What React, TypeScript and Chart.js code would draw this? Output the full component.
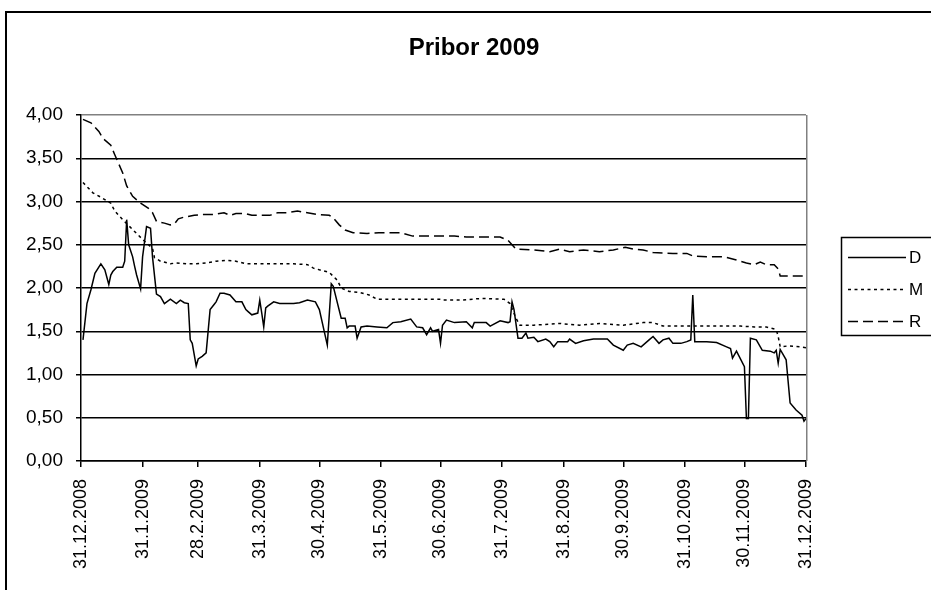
import React, { useEffect, useRef } from "react";
import { Chart, registerables } from "chart.js";

Chart.register(...registerables);

const TITLE = "Pribor 2009";
const FONT = '"Liberation Sans", Arial, sans-serif';

// x tick positions: days since 31.12.2008
const xTickDays = [0, 31, 59, 90, 120, 151, 181, 212, 243, 273, 304, 334, 365];
const xTickLabels = [
  "31.12.2008", "31.1.2009", "28.2.2009", "31.3.2009", "30.4.2009", "31.5.2009",
  "30.6.2009", "31.7.2009", "31.8.2009", "30.9.2009", "31.10.2009", "30.11.2009", "31.12.2009",
];
const yTickLabels = ["0,00", "0,50", "1,00", "1,50", "2,00", "2,50", "3,00", "3,50", "4,00"];

// Series D
const dDays = [1, 3, 5, 7, 10, 12, 14, 15, 16, 18, 21, 22, 23, 24, 26, 27, 28, 30, 31, 33, 35, 36, 38, 40, 42, 45, 48, 50, 52, 54, 55, 56, 58, 59, 61, 63, 65, 67, 68, 70, 72, 75, 78, 81, 83, 84, 86, 89, 90, 91, 92, 93, 94, 97, 100, 107, 110, 114, 118, 120, 124, 126, 127, 131, 133, 134, 135, 138, 139, 141, 144, 149, 154, 157, 161, 166, 169, 172, 174, 176, 177, 180, 181, 182, 184, 188, 194, 197, 198, 204, 206, 211, 215, 216, 217, 218, 220, 222, 224, 225, 228, 230, 234, 236, 238, 240, 245, 246, 249, 253, 258, 265, 268, 273, 275, 278, 282, 286, 288, 291, 293, 296, 298, 302, 305, 307, 308, 309, 315, 320, 325, 327, 328, 330, 334, 335, 336, 337, 340, 343, 347, 349, 350, 351, 352, 355, 357, 360, 363, 364, 365];
const dValues = [1.40, 1.82, 1.98, 2.17, 2.28, 2.21, 2.04, 2.15, 2.19, 2.24, 2.24, 2.31, 2.79, 2.50, 2.36, 2.25, 2.15, 1.99, 2.36, 2.71, 2.69, 2.36, 1.93, 1.90, 1.82, 1.87, 1.82, 1.86, 1.83, 1.82, 1.40, 1.36, 1.10, 1.18, 1.21, 1.25, 1.75, 1.81, 1.84, 1.94, 1.94, 1.92, 1.84, 1.84, 1.75, 1.73, 1.69, 1.71, 1.86, 1.71, 1.55, 1.77, 1.79, 1.84, 1.82, 1.82, 1.83, 1.86, 1.84, 1.75, 1.34, 2.05, 2.02, 1.65, 1.65, 1.54, 1.56, 1.56, 1.42, 1.55, 1.56, 1.55, 1.54, 1.60, 1.61, 1.64, 1.55, 1.54, 1.46, 1.54, 1.50, 1.52, 1.36, 1.57, 1.63, 1.60, 1.61, 1.54, 1.60, 1.60, 1.56, 1.62, 1.60, 1.61, 1.84, 1.75, 1.42, 1.42, 1.48, 1.42, 1.43, 1.38, 1.41, 1.38, 1.32, 1.38, 1.38, 1.41, 1.36, 1.39, 1.41, 1.41, 1.34, 1.28, 1.34, 1.36, 1.32, 1.40, 1.44, 1.36, 1.40, 1.42, 1.36, 1.36, 1.38, 1.40, 1.92, 1.38, 1.38, 1.37, 1.32, 1.30, 1.19, 1.27, 1.09, 0.49, 0.49, 1.42, 1.40, 1.28, 1.27, 1.25, 1.28, 1.13, 1.29, 1.17, 0.67, 0.59, 0.53, 0.46, 0.49];

// Series M
const mDays = [1, 6, 10, 15, 17, 21, 28, 32, 36, 37, 40, 45, 48, 53, 58, 63, 68, 73, 78, 83, 90, 107, 114, 117, 120, 125, 129, 131, 135, 140, 145, 149, 161, 181, 182, 191, 202, 213, 216, 219, 221, 228, 241, 251, 261, 273, 283, 288, 293, 298, 315, 332, 339, 345, 350, 351, 352, 356, 362, 365];
const mValues = [3.22, 3.10, 3.05, 2.98, 2.89, 2.79, 2.63, 2.54, 2.46, 2.35, 2.31, 2.28, 2.29, 2.28, 2.28, 2.29, 2.31, 2.32, 2.31, 2.28, 2.28, 2.28, 2.27, 2.23, 2.21, 2.18, 2.09, 2.00, 1.96, 1.95, 1.92, 1.87, 1.87, 1.87, 1.86, 1.86, 1.88, 1.87, 1.82, 1.65, 1.57, 1.57, 1.59, 1.57, 1.59, 1.57, 1.60, 1.60, 1.56, 1.56, 1.56, 1.56, 1.55, 1.55, 1.52, 1.44, 1.32, 1.33, 1.32, 1.31];

// Series R
const rDays = [1, 5, 9, 11, 15, 17, 21, 23, 26, 30, 34, 36, 38, 42, 45, 47, 49, 52, 57, 62, 67, 72, 75, 78, 83, 86, 90, 95, 99, 104, 109, 114, 119, 125, 127, 130, 133, 137, 144, 150, 159, 161, 167, 177, 188, 194, 211, 215, 219, 228, 236, 241, 246, 253, 261, 268, 274, 278, 283, 288, 298, 305, 308, 315, 324, 329, 335, 339, 342, 345, 349, 351, 352, 365];
const rValues = [3.95, 3.91, 3.81, 3.73, 3.65, 3.54, 3.33, 3.18, 3.06, 2.98, 2.92, 2.87, 2.77, 2.75, 2.73, 2.74, 2.80, 2.82, 2.84, 2.85, 2.85, 2.87, 2.84, 2.86, 2.86, 2.84, 2.84, 2.84, 2.87, 2.87, 2.89, 2.87, 2.85, 2.84, 2.81, 2.73, 2.67, 2.64, 2.63, 2.64, 2.64, 2.64, 2.60, 2.60, 2.60, 2.59, 2.59, 2.55, 2.45, 2.44, 2.42, 2.45, 2.42, 2.44, 2.42, 2.44, 2.47, 2.45, 2.44, 2.41, 2.40, 2.40, 2.37, 2.36, 2.36, 2.33, 2.29, 2.27, 2.30, 2.27, 2.27, 2.22, 2.14, 2.14];

const toPoints = (xs: number[], ys: number[]) => xs.map((x, i) => ({ x, y: ys[i] }));

const decor = {
  id: "decor",
  beforeDatasetsDraw(chart: any) {
    const { ctx, chartArea: a } = chart;
    ctx.save();
    ctx.strokeStyle = "#808080";
    ctx.lineWidth = 1.5;
    ctx.beginPath();
    const rx = Math.round(a.right) + 0.75;
    ctx.moveTo(rx, a.top);
    ctx.lineTo(rx, a.bottom);
    ctx.stroke();
    ctx.restore();
  },
  afterDraw(chart: any) {
    const { ctx } = chart;
    ctx.save();
    // outer frame
    ctx.strokeStyle = "#000";
    ctx.lineWidth = 2;
    ctx.strokeRect(6, 12, 936, 584);
    // title
    ctx.fillStyle = "#000";
    ctx.font = `bold 24px ${FONT}`;
    ctx.textAlign = "center";
    ctx.textBaseline = "middle";
    ctx.fillText(TITLE, 474, 48);
    // legend
    ctx.lineWidth = 1.5;
    ctx.strokeRect(841.5, 237.5, 100, 98);
    ctx.font = `17px ${FONT}`;
    ctx.textAlign = "left";
    chart.data.datasets.forEach((ds: any, i: number) => {
      const y = 257 + i * 32;
      ctx.save();
      ctx.strokeStyle = "#000";
      ctx.lineWidth = 1.5;
      ctx.setLineDash(ds.borderDash || []);
      ctx.beginPath();
      ctx.moveTo(848, y + 0.5);
      ctx.lineTo(906, y + 0.5);
      ctx.stroke();
      ctx.restore();
      ctx.fillText(ds.label, 909, y + 1);
    });
    ctx.restore();
  },
};

export default function App() {
  const ref = useRef<HTMLCanvasElement | null>(null);
  useEffect(() => {
    if (!ref.current) return;
    const chart = new Chart(ref.current, {
      type: "line",
      data: {
        datasets: [
          { label: "D", data: toPoints(dDays, dValues), borderColor: "#000", borderWidth: 1.5, pointRadius: 0, tension: 0, fill: false },
          { label: "M", data: toPoints(mDays, mValues), borderColor: "#000", borderWidth: 1.5, borderDash: [3, 3.5], pointRadius: 0, tension: 0, fill: false },
          { label: "R", data: toPoints(rDays, rValues), borderColor: "#000", borderWidth: 1.5, borderDash: [10, 5], pointRadius: 0, tension: 0, fill: false },
        ],
      },
      options: {
        responsive: false,
        animation: false,
        devicePixelRatio: 1,
        layout: { padding: { top: 115, right: 142, left: 0, bottom: 0 } },
        plugins: { legend: { display: false }, title: { display: false }, tooltip: { enabled: false } },
        scales: {
          x: {
            type: "linear",
            min: 0,
            max: 365,
            afterBuildTicks: (scale: any) => {
              scale.ticks = xTickDays.map((v) => ({ value: v }));
            },
            afterFit: (scale: any) => {
              scale.height = 139;
            },
            ticks: {
              autoSkip: false,
              maxRotation: 90,
              minRotation: 90,
              padding: 12,
              color: "#000",
              font: { family: FONT, size: 18 },
              callback: (v: any) => {
                const i = xTickDays.indexOf(Number(v));
                return i >= 0 ? xTickLabels[i] : "";
              },
            },
            grid: { display: true, drawOnChartArea: false, drawTicks: true, tickLength: 6, color: "#000", tickColor: "#000", lineWidth: 1.5 },
            border: { display: true, color: "#000", width: 1.5 },
          },
          y: {
            min: 0,
            max: 4,
            afterFit: (scale: any) => {
              scale.width = 81;
            },
            ticks: {
              stepSize: 0.5,
              padding: 13,
              color: "#000",
              font: { family: FONT, size: 19 },
              callback: (_v: any, i: number) => yTickLabels[i],
            },
            grid: {
              color: (c: any) => (c.tick && c.tick.value === 4 ? "#808080" : "#000"),
              tickColor: "#000",
              tickLength: 5,
              lineWidth: 1.5,
            },
            border: { display: true, color: "#000", width: 1.5 },
          },
        },
      },
      plugins: [decor],
    } as any);
    return () => chart.destroy();
  }, []);
  return (
    <div style={{ position: "absolute", left: 0, top: 0, width: 931, height: 590, overflow: "hidden", background: "#fff" }}>
      <canvas ref={ref} width={948} height={600} style={{ display: "block" }} />
    </div>
  );
}
